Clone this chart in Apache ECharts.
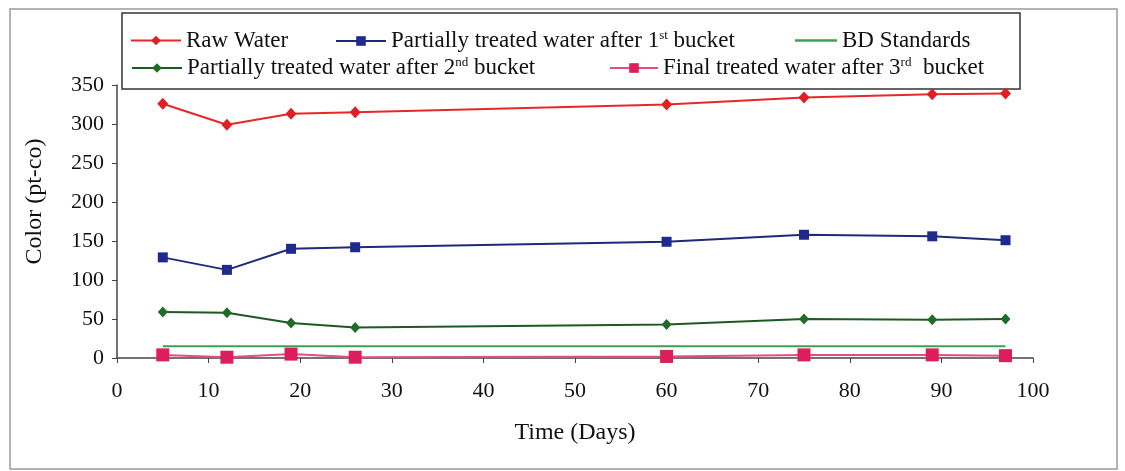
<!DOCTYPE html>
<html>
<head>
<meta charset="utf-8">
<title>Color vs Time</title>
<script src="https://cdn.jsdelivr.net/npm/echarts@6/dist/echarts.min.js"></script>
<style>
  html, body { margin: 0; padding: 0; background: #ffffff; }
  #chart { width: 1125px; height: 471px; }
</style>
</head>
<body>
<div id="chart"></div>
<script>
// Sampling days
const days = [5, 12, 19, 26, 60, 75, 89, 97];

// Colour (pt-co) measured at each stage
const rawWater = [326, 299, 313, 315, 325, 334, 338, 339];
const afterBucket1 = [129, 113, 140, 142, 149, 158, 156, 151];
const afterBucket2 = [59, 58, 45, 39, 43, 50, 49, 50];
const finalWater = [4, 1, 5, 1, 2, 4, 4, 3];

// Bangladesh standard for colour
const bdDays = [5, 97];
const bdStandard = [15, 15];

// Axis ticks
const xTicks = [0, 10, 20, 30, 40, 50, 60, 70, 80, 90, 100];
const yTicks = [0, 50, 100, 150, 200, 250, 300, 350];

const seriesNames = {
  raw: 'Raw Water',
  b1: 'Partially treated water after 1st bucket',
  bd: 'BD Standards',
  b2: 'Partially treated water after 2nd bucket',
  fin: 'Final treated water after 3rd  bucket'
};

// Legend labels with superscript ordinals
const legendRich = {
  [seriesNames.raw]: '{t|Raw Water}',
  [seriesNames.b1]: '{t|Partially treated water after 1}{s|st}{t| bucket}',
  [seriesNames.bd]: '{t|BD Standards}',
  [seriesNames.b2]: '{t|Partially treated water after 2}{s|nd}{t| bucket}',
  [seriesNames.fin]: '{t|Final treated water after 3}{s|rd}{t|  bucket}'
};

const FONT = '"Liberation Serif", "DejaVu Serif", serif';
const LEGEND_SIZE = 23;

const pair = (xs, ys) => xs.map((x, i) => [x, ys[i]]);

const chart = echarts.init(document.getElementById('chart'), null, { renderer: 'canvas' });

function legendAt(name, left, top, extra) {
  return Object.assign({
    data: [name],
    left: left,
    top: top,
    z: 20,
    itemWidth: 50,
    itemHeight: 12,
    itemGap: 5,
    padding: 0,
    selectedMode: false,
    formatter: n => legendRich[n],
    textStyle: {
      fontFamily: FONT,
      fontSize: LEGEND_SIZE,
      color: '#111',
      rich: {
        t: { fontFamily: FONT, fontSize: LEGEND_SIZE, color: '#111', lineHeight: 24 },
        s: { fontFamily: FONT, fontSize: 13, color: '#111', lineHeight: 24, verticalAlign: 'top', padding: [0, 0, 9, 0] }
      }
    }
  }, extra || {});
}

const option = {
  backgroundColor: '#ffffff',
  animation: false,
  grid: { left: 117, right: 92, top: 85, bottom: 113, containLabel: false },
  graphic: [
    {
      type: 'rect',
      z: -10,
      shape: { x: 10, y: 9, width: 1107, height: 460 },
      style: { fill: 'none', stroke: '#9a9a9a', lineWidth: 1.5 }
    },
    {
      type: 'rect',
      z: 1,
      shape: { x: 122, y: 13, width: 898, height: 76 },
      style: { fill: '#ffffff', stroke: '#333333', lineWidth: 1.5 }
    }
  ],
  legend: [
    legendAt(seriesNames.raw, 130, 29),
    legendAt(seriesNames.b1, 335, 29),
    legendAt(seriesNames.bd, 795, 29, {
      data: [{ name: seriesNames.bd, icon: 'rect' }],
      itemWidth: 42,
      itemHeight: 2.5
    }),
    legendAt(seriesNames.b2, 131, 56),
    legendAt(seriesNames.fin, 609, 56, { itemWidth: 48 })
  ],
  xAxis: {
    type: 'value',
    min: 0,
    max: 100,
    interval: 10,
    name: 'Time (Days)',
    nameLocation: 'middle',
    nameGap: 63,
    nameTextStyle: { fontFamily: FONT, fontSize: 24, color: '#111' },
    axisLine: { show: true, onZero: false, lineStyle: { color: '#444', width: 1.5 } },
    axisTick: { show: true, length: 5, lineStyle: { color: '#444' } },
    axisLabel: {
      fontFamily: FONT, fontSize: 22, color: '#111', margin: 22,
      formatter: v => (xTicks.includes(v) ? String(v) : '')
    },
    splitLine: { show: false }
  },
  yAxis: {
    type: 'value',
    min: 0,
    max: 350,
    interval: 50,
    name: 'Color (pt-co)',
    nameLocation: 'middle',
    nameGap: 70,
    nameRotate: 90,
    nameTextStyle: { fontFamily: FONT, fontSize: 24, color: '#111', padding: [0, 0, 0, 40] },
    axisLine: { show: true, lineStyle: { color: '#444', width: 1.5 } },
    axisTick: { show: true, length: 5, lineStyle: { color: '#444' } },
    axisLabel: {
      fontFamily: FONT, fontSize: 22, color: '#111', margin: 13,
      formatter: v => (yTicks.includes(v) ? String(v) : '')
    },
    splitLine: { show: false }
  },
  series: [
    {
      name: seriesNames.raw,
      type: 'line',
      data: pair(days, rawWater),
      symbol: 'diamond',
      symbolSize: [11, 12],
      lineStyle: { color: '#e8272b', width: 2 },
      itemStyle: { color: '#e01e24' },
      z: 4
    },
    {
      name: seriesNames.b1,
      type: 'line',
      data: pair(days, afterBucket1),
      symbol: 'rect',
      symbolSize: 10,
      lineStyle: { color: '#1f2a7a', width: 2 },
      itemStyle: { color: '#1e2a8c' },
      z: 4
    },
    {
      name: seriesNames.bd,
      type: 'line',
      data: pair(bdDays, bdStandard),
      symbol: 'none',
      lineStyle: { color: '#3f9f55', width: 2 },
      itemStyle: { color: '#3f9f55' },
      z: 3
    },
    {
      name: seriesNames.b2,
      type: 'line',
      data: pair(days, afterBucket2),
      symbol: 'diamond',
      symbolSize: [10, 11],
      lineStyle: { color: '#1d5a22', width: 2 },
      itemStyle: { color: '#1f6d25' },
      z: 4
    },
    {
      name: seriesNames.fin,
      type: 'line',
      data: pair(days, finalWater),
      symbol: 'rect',
      symbolSize: 13,
      lineStyle: { color: '#e34d80', width: 2 },
      itemStyle: { color: '#dc1e5a' },
      z: 4
    }
  ]
};

chart.setOption(option);
</script>
</body>
</html>
